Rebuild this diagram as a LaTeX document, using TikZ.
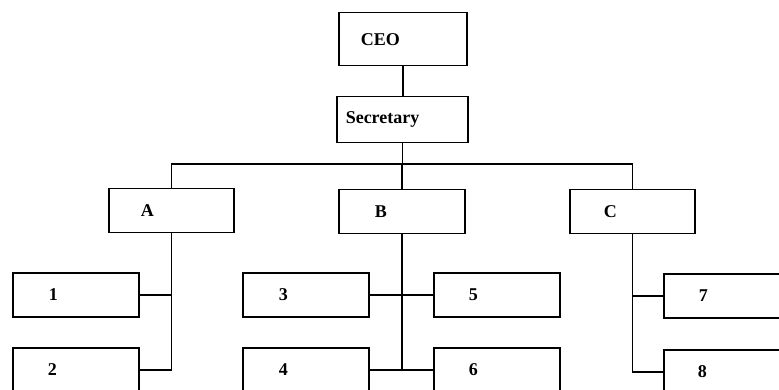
\documentclass[tikz,border=0pt]{standalone}
\usepackage{fontspec}
\setmainfont{Liberation Serif}
\begin{document}
\begin{tikzpicture}[x=1pt,y=-1pt,
  box/.style n args={3}{draw, line width=1.5pt, anchor=north west,
    minimum height=#2, text width=#1-2*#3, inner xsep=#3, inner ysep=0pt,
    align=left, font=\fontsize{18}{20}\selectfont\bfseries},
  link/.style={line width=1.5pt}]
\useasboundingbox (0,0) rectangle (779,390);
\clip (0,0) rectangle (779,390);
\node[box={128pt}{53pt}{22pt}] (ceo) at (338,12) {CEO};
\node[box={131pt}{46pt}{9pt}] (sec) at (336,96) {Secretary};
\node[box={125pt}{44pt}{32pt}] (a) at (108,188) {A};
\node[box={126pt}{44pt}{36pt}] (b) at (338,189) {B};
\node[box={125pt}{44pt}{34pt}] (c) at (569,189) {C};
\node[box={126pt}{44pt}{36pt}] (n1) at (12,272) {1};
\node[box={126pt}{44pt}{35pt}] (n2) at (12,347) {2};
\node[box={126pt}{44pt}{36pt}] (n3) at (242,272) {3};
\node[box={126pt}{44pt}{36pt}] (n4) at (242,347) {4};
\node[box={126pt}{44pt}{35pt}] (n5) at (433,272) {5};
\node[box={126pt}{44pt}{35pt}] (n6) at (433,347) {6};
\node[box={126pt}{44pt}{35pt}] (n7) at (663,273) {7};
\node[box={126pt}{44pt}{34pt}] (n8) at (663,349) {8};
\coordinate (bus) at (0,164);
\draw[link] (ceo.south) -- (ceo.south |- sec.north);
\draw[link] (sec.south) -- (sec.south |- bus);
\draw[link] (a.north) -- (a.north |- bus) -- (c.north |- bus) -- (c.north);
\draw[link] (b.north) -- (b.north |- bus);
\draw[link] (a.south) |- (n2.east);
\draw[link] (n1.east) -- (n1.east -| a.south);
\draw[link] (b.south) -- (b.south |- n4.east);
\draw[link] (n3.east) -- (n5.west);
\draw[link] (n4.east) -- (n6.west);
\draw[link] (c.south) |- (n8.west);
\draw[link] (c.south |- n7.west) -- (n7.west);
\end{tikzpicture}
\end{document}
